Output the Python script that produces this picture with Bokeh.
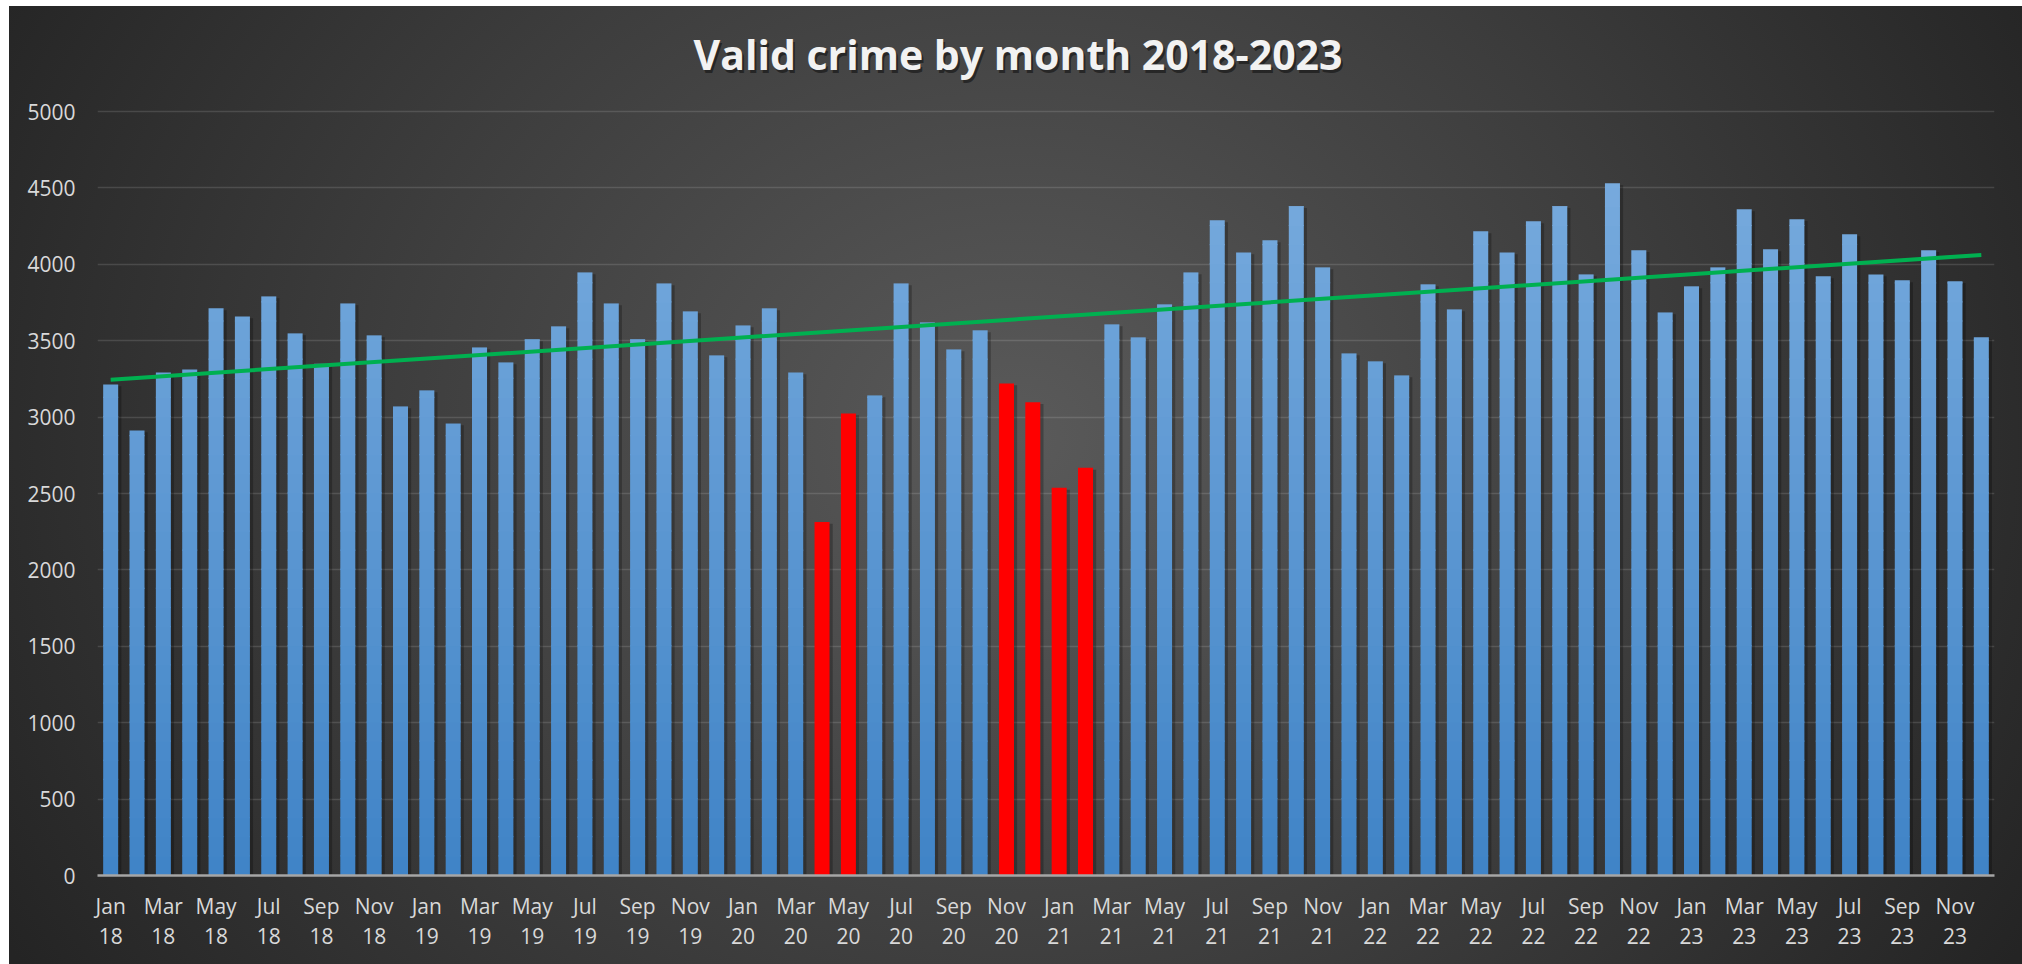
import numpy as np
from bokeh.plotting import figure
from bokeh.models import Range1d, FixedTicker
from bokeh.core.properties import value
from bokeh.embed import file_html
from bokeh.resources import INLINE

MONTH_NAMES = ["Jan", "Feb", "Mar", "Apr", "May", "Jun",
               "Jul", "Aug", "Sep", "Oct", "Nov", "Dec"]
YEARS = ["18", "19", "20", "21", "22", "23"]
months = [f"{m} {y}" for y in YEARS for m in MONTH_NAMES]

crimes_2018 = [3214, 2913, 3292, 3312, 3712, 3659, 3790, 3548, 3349, 3744, 3535, 3070]
crimes_2019 = [3175, 2958, 3456, 3358, 3509, 3594, 3947, 3744, 3509, 3875, 3692, 3404]
crimes_2020 = [3600, 3712, 3292, 2314, 3024, 3142, 3875, 3620, 3443, 3568, 3220, 3098]
crimes_2021 = [2537, 2668, 3607, 3522, 3738, 3947, 4288, 4078, 4157, 4380, 3980, 3417]
crimes_2022 = [3365, 3273, 3869, 3705, 4216, 4078, 4281, 4380, 3934, 4530, 4092, 3685]
crimes_2023 = [3856, 3980, 4360, 4098, 4295, 3921, 4196, 3934, 3895, 4092, 3889, 3522]
crimes = crimes_2018 + crimes_2019 + crimes_2020 + crimes_2021 + crimes_2022 + crimes_2023

red_months = ["Apr 20", "May 20", "Nov 20", "Dec 20", "Jan 21", "Feb 21"]
y_ticks = [0, 500, 1000, 1500, 2000, 2500, 3000, 3500, 4000, 4500, 5000]
Y_MAX = 5000
TITLE = "Valid crime by month 2018-2023"

FONT = "Open Sans"
BAR_W = 0.57

# layout in pixels
W, H = 2013, 958
B_LEFT, B_RIGHT, B_BOTTOM = 88, 28, 89
AXIS_TOP_PX = 105          # where the 5000 gridline sits, from the canvas top
TITLE_CENTER_PX = 47       # title centre, from the canvas top
TITLE_SHIFT_PX = -28       # title centre relative to the plot-area centre

frame_h = H - B_BOTTOM
units_per_px = Y_MAX / (frame_h - AXIS_TOP_PX)
y_top = frame_h * units_per_px
n = len(months)
x_per_px = n / (W - B_LEFT - B_RIGHT)

p = figure(width=W, height=H, output_backend="svg", toolbar_location=None,
           x_range=Range1d(-0.5, n - 0.5), y_range=Range1d(0, y_top),
           min_border_left=B_LEFT, min_border_right=B_RIGHT,
           min_border_top=0, min_border_bottom=B_BOTTOM)
p.background_fill_alpha = 0
p.border_fill_alpha = 0
p.outline_line_color = None
p.styles = {
    "background": "radial-gradient(ellipse 58% 105% at 50% 45%, #5a5a5a 0%, #3d3d3d 55%, #242424 100%)",
    "position": "relative",
    "left": "9px",
    "top": "6px",
}

idx = np.arange(n)
vals = np.array(crimes, dtype=float)
is_red = np.array([m in red_months for m in months])

# shadows
p.vbar(x=idx + 0.12, top=vals - 12, bottom=0, width=BAR_W, fill_color="black",
       fill_alpha=0.25, line_color=None)

# blue bars with vertical gradient drawn as bands
bands = 40
step = Y_MAX / bands
c_bot = np.array([0x40, 0x84, 0xc7])
c_top = np.array([0x78, 0xab, 0xde])
blue_idx = idx[~is_red]
blue_vals = vals[~is_red]
for k in range(bands):
    lo = k * step
    mask = blue_vals > lo
    if not mask.any():
        continue
    v = blue_vals[mask]
    hi = np.where(v <= lo + step, v, np.minimum(v, lo + step + 8))
    t = min(1.0, (lo + step / 2) / 4600)
    c = (c_bot + (c_top - c_bot) * t).astype(int)
    col = "#%02x%02x%02x" % tuple(c)
    p.vbar(x=blue_idx[mask], top=hi, bottom=lo, width=BAR_W, fill_color=col, line_color=None)

p.vbar(x=idx[is_red], top=vals[is_red], bottom=0, width=BAR_W, fill_color="#ff0000", line_color=None)

# linear trendline
slope, intercept = np.polyfit(idx, vals, 1)
p.line(x=[idx[0], idx[-1]], y=[intercept + slope * idx[0], intercept + slope * idx[-1]],
       line_color="#00b050", line_width=4)

# title, drawn as text with a soft shadow
tx = (n - 1) / 2 + TITLE_SHIFT_PX * x_per_px
ty = (frame_h - TITLE_CENTER_PX) * units_per_px
p.text(x=[tx], y=[ty], text=[TITLE], x_offset=2, y_offset=3, text_align="center",
       text_baseline="middle", text_font=value(FONT), text_font_style="bold",
       text_font_size="41px", text_color="#000000", text_alpha=0.45)
p.text(x=[tx], y=[ty], text=[TITLE], text_align="center",
       text_baseline="middle", text_font=value(FONT), text_font_style="bold",
       text_font_size="41px", text_color="#f2f2f2")

# axes
p.xgrid.grid_line_color = None
p.ygrid.ticker = FixedTicker(ticks=y_ticks)
p.ygrid.grid_line_color = "#ffffff"
p.ygrid.grid_line_alpha = 0.13
p.ygrid.grid_line_width = 1.5

p.yaxis.ticker = FixedTicker(ticks=y_ticks)
p.yaxis.axis_line_color = None
p.yaxis.major_tick_line_color = None
p.yaxis.minor_tick_line_color = None
p.yaxis.major_label_text_color = "#d9d9d9"
p.yaxis.major_label_text_font = FONT
p.yaxis.major_label_text_font_size = "21px"
p.yaxis.major_label_standoff = 16

p.xaxis.ticker = FixedTicker(ticks=list(range(0, n, 2)))
p.xaxis.major_label_overrides = {int(i): months[i].replace(" ", "\n") for i in range(0, n, 2)}
p.xaxis.axis_line_color = "#a6a6a6"
p.xaxis.axis_line_width = 2.5
p.xaxis.major_tick_line_color = None
p.xaxis.minor_tick_line_color = None
p.xaxis.major_label_text_color = "#d9d9d9"
p.xaxis.major_label_text_font = FONT
p.xaxis.major_label_text_font_size = "21px"
p.xaxis.major_label_text_line_height = 1.1
p.xaxis.major_label_standoff = 10

open("out.html", "w").write(file_html(p, INLINE))
